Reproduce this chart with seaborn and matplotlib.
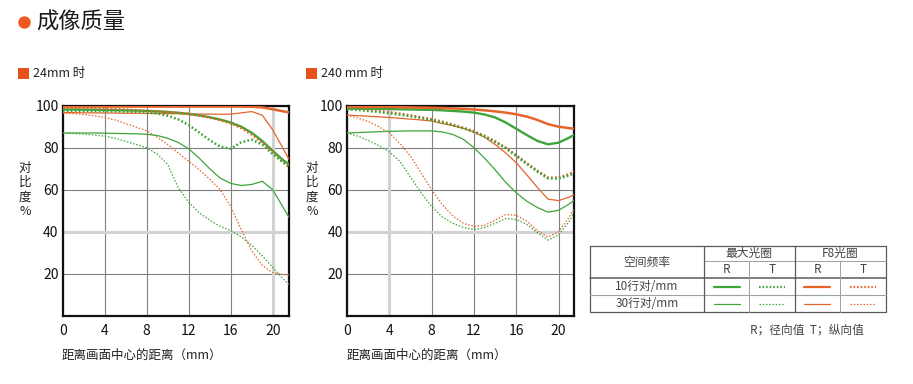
import matplotlib
matplotlib.use("Agg")
import matplotlib.pyplot as plt
import seaborn as sns
from matplotlib.patches import Rectangle

# distance from image centre (mm)
dist = [0, 1, 2, 3, 4, 5, 6, 7, 8, 9, 10, 11, 12, 13, 14, 15, 16, 17, 18, 19, 20, 21, 21.6]

# 24mm - max aperture (green) / F8 (orange), 10 & 30 lp/mm, R & T
w_g10r = [98.2, 98.2, 98.1, 98.1, 98.0, 97.9, 97.8, 97.7, 97.5, 97.3, 97.0, 96.6, 96.1, 95.4, 94.5, 93.4, 92.0, 90.0, 87.1, 83.2, 78.5, 74.0, 72.0]
w_g10t = [97.6, 97.6, 97.5, 97.5, 97.4, 97.3, 97.2, 97.0, 96.8, 96.3, 95.2, 93.5, 90.8, 87.2, 83.6, 80.5, 79.5, 82.6, 83.8, 81.5, 77.0, 73.0, 71.3]
w_g30r = [87.0, 87.0, 87.0, 87.0, 86.9, 86.8, 86.7, 86.6, 86.4, 85.8, 84.5, 82.5, 79.5, 75.0, 70.0, 65.5, 63.0, 62.0, 62.5, 64.0, 60.0, 51.5, 46.5]
w_g30t = [87.0, 86.8, 86.5, 86.0, 85.5, 84.5, 83.0, 81.5, 80.0, 77.0, 72.0, 61.0, 54.0, 49.0, 45.5, 42.5, 40.5, 37.5, 33.5, 28.5, 23.0, 17.5, 14.5]
w_o10r = [99.6, 99.6, 99.6, 99.6, 99.6, 99.6, 99.6, 99.6, 99.6, 99.6, 99.6, 99.6, 99.6, 99.6, 99.6, 99.6, 99.6, 99.6, 99.5, 99.2, 98.3, 97.3, 96.8]
w_o10t = [99.0, 99.0, 98.9, 98.8, 98.6, 98.4, 98.2, 97.9, 97.6, 97.3, 97.0, 96.6, 96.1, 95.3, 94.3, 93.1, 91.6, 89.4, 86.3, 82.5, 78.0, 73.0, 70.5]
w_o30r = [96.7, 96.7, 96.6, 96.6, 96.5, 96.5, 96.4, 96.4, 96.3, 96.3, 96.2, 96.2, 96.1, 96.0, 96.0, 95.9, 96.0, 96.6, 97.2, 95.5, 88.5, 79.5, 74.0]
w_o30t = [96.5, 96.2, 95.8, 95.2, 94.4, 93.2, 91.5, 89.8, 88.0, 85.0, 81.5, 77.5, 73.5, 69.5, 65.0, 60.0, 52.0, 41.0, 31.0, 24.0, 20.5, 19.6, 19.5]

# 240mm
t_g10r = [98.6, 98.6, 98.5, 98.5, 98.4, 98.3, 98.2, 98.1, 98.0, 97.8, 97.5, 97.2, 96.7, 95.8, 94.4, 92.0, 89.0, 86.0, 83.2, 81.6, 82.4, 84.8, 86.5]
t_g10t = [98.3, 98.0, 97.5, 97.0, 96.4, 95.7, 95.0, 94.1, 93.2, 92.0, 90.7, 89.2, 87.5, 85.3, 82.8, 79.7, 76.0, 72.2, 68.6, 65.4, 65.3, 66.8, 68.2]
t_g30r = [87.0, 87.2, 87.4, 87.6, 87.8, 87.9, 88.0, 88.0, 88.0, 87.5, 86.3, 84.0, 80.0, 75.0, 69.5, 63.5, 58.5, 54.5, 51.5, 49.3, 50.2, 53.2, 55.5]
t_g30t = [87.0, 85.5, 83.5, 81.0, 78.0, 73.5, 66.0, 58.5, 52.0, 47.0, 44.0, 42.0, 41.0, 42.0, 44.0, 46.3, 45.8, 43.5, 39.5, 36.0, 38.5, 45.0, 50.3]
t_o10r = [99.6, 99.6, 99.5, 99.5, 99.4, 99.3, 99.2, 99.1, 99.0, 98.9, 98.7, 98.5, 98.2, 97.8, 97.3, 96.7, 95.9, 94.8, 93.2, 91.2, 90.0, 89.3, 89.0]
t_o10t = [99.0, 98.6, 98.1, 97.5, 96.9, 96.2, 95.4, 94.5, 93.6, 92.4, 91.0, 89.5, 87.8, 85.6, 83.0, 80.0, 76.4, 72.6, 69.0, 65.8, 65.7, 67.4, 69.0]
t_o30r = [95.5, 95.3, 95.0, 94.7, 94.4, 94.0, 93.6, 93.2, 92.7, 91.5, 90.5, 89.2, 87.5, 85.0, 81.5, 77.5, 72.8, 67.0, 61.0, 55.5, 54.8, 56.5, 58.0]
t_o30t = [95.5, 94.2, 92.5, 90.0, 87.0, 82.0, 76.0, 68.0, 60.0, 53.0, 47.5, 44.0, 42.5, 43.0, 45.5, 48.2, 47.8, 45.0, 40.5, 37.5, 40.0, 47.0, 52.0]

x_ticks = [0, 4, 8, 12, 16, 20]
y_ticks = [20, 40, 60, 80, 100]

GREEN = "#3da53a"
ORANGE = "#e5642a"
DOT_THICK = (0, (0.7, 0.9))
DOT_THIN = (0, (1.2, 1.4))
W, H = 913, 384

sns.set_style("white")
plt.rcParams["font.family"] = ["Noto Sans CJK SC", "DejaVu Sans"]

fig = plt.figure(figsize=(W / 100, H / 100), dpi=100)


def box(l, t, r, b):
    return [l / W, 1 - b / H, (r - l) / W, (b - t) / H]


def draw_panel(ax, curves, xmax, light_x):
    # grid first, lighter grey bands on top of it
    ax.set_axisbelow(True)
    ax.grid(True, color="#808080", lw=0.8)
    ax.axhline(40, color="#d2d2d2", lw=2.2, zorder=1)
    ax.axvline(light_x, color="#d2d2d2", lw=2.2, zorder=1)
    for vals, color, ls, lw in curves:
        sns.lineplot(x=dist, y=vals, ax=ax, color=color, linestyle=ls, linewidth=lw, zorder=3)
    ax.set_xlim(0, xmax)
    ax.set_ylim(0, 100)
    ax.set_xticks(x_ticks)
    ax.set_yticks(y_ticks)
    ax.tick_params(length=0, labelsize=10, colors="#111111")
    ax.tick_params(axis="x", pad=6)
    ax.tick_params(axis="y", pad=3)
    ax.set_xlabel("")
    ax.set_ylabel("")
    for sp in ax.spines.values():
        sp.set_color("#111111")
        sp.set_linewidth(1.6)


def styles(g10r, g10t, g30r, g30t, o10r, o10t, o30r, o30t):
    return [
        (g30t, GREEN, DOT_THIN, 0.9),
        (o30t, ORANGE, DOT_THIN, 0.9),
        (g30r, GREEN, "-", 0.9),
        (o30r, ORANGE, "-", 0.9),
        (g10r, GREEN, "-", 1.7),
        (o10t, ORANGE, DOT_THICK, 1.8),
        (g10t, GREEN, DOT_THICK, 1.8),
        (o10r, ORANGE, "-", 1.8),
    ]


ax1 = fig.add_axes(box(62.7, 105.7, 289, 315.7))
draw_panel(ax1, styles(w_g10r, w_g10t, w_g30r, w_g30t, w_o10r, w_o10t, w_o30r, w_o30t), 21.55, 20)

ax2 = fig.add_axes(box(347, 105.7, 574, 315.7))
draw_panel(ax2, styles(t_g10r, t_g10t, t_g30r, t_g30t, t_o10r, t_o10t, t_o30r, t_o30t), 21.45, 4)

# overlay in pixel coordinates for headings and the legend table
ov = fig.add_axes([0, 0, 1, 1], zorder=-1)
ov.set_xlim(0, W)
ov.set_ylim(H, 0)
ov.axis("off")

ov.scatter([23.5], [21.5], s=80, color="#f05a22", linewidths=0)
ov.text(36, 22, "成像质量", fontsize=16, va="center", ha="left", color="#1a1a1a")

for sx, label in [(18, "24mm 时"), (306, "240 mm 时")]:
    ov.add_patch(Rectangle((sx, 68), 11, 11, color="#e8501e", lw=0))
    ov.text(sx + 15, 74, label, fontsize=9, va="center", ha="left", color="#222222")

for cx, axl in [(25, 62), (312, 347)]:
    ov.text(cx, 190, "对\n比\n度\n%", fontsize=9, va="center", ha="center",
            color="#222222", linespacing=1.15)
    ov.text(axl, 355, "距离画面中心的距离（mm）", fontsize=9, va="center", ha="left", color="#222222")

# legend table
L, C1, C2, C3, C4, R = 590, 704, 749, 794.7, 840, 885.7
T0, T1, T2, T3, T4 = 246, 261, 278.3, 295.3, 312
dark, light = "#5a5a5a", "#a0a0a0"
ov.plot([L, R, R, L, L], [T0, T0, T4, T4, T0], color=dark, lw=0.9)
ov.plot([C1, R], [T1, T1], color=light, lw=0.7)
ov.plot([L, R], [T2, T2], color=dark, lw=1.1)
ov.plot([L, R], [T3, T3], color=light, lw=0.8)
ov.plot([C1, C1], [T0, T4], color=dark, lw=0.9)
ov.plot([C3, C3], [T0, T4], color=dark, lw=0.9)
ov.plot([C2, C2], [T1, T4], color=light, lw=0.7)
ov.plot([C4, C4], [T1, T4], color=light, lw=0.7)

tc = "#444444"
ov.text((L + C1) / 2, (T0 + T2) / 2, "空间频率", fontsize=8.5, ha="center", va="center", color=tc)
ov.text((C1 + C3) / 2, (T0 + T1) / 2, "最大光圈", fontsize=8.5, ha="center", va="center", color=tc)
ov.text((C3 + R) / 2, (T0 + T1) / 2, "F8光圈", fontsize=8.5, ha="center", va="center", color=tc)
for a, b, s in [(C1, C2, "R"), (C2, C3, "T"), (C3, C4, "R"), (C4, R, "T")]:
    ov.text((a + b) / 2, (T1 + T2) / 2, s, fontsize=8.5, ha="center", va="center", color=tc)
ov.text((L + C1) / 2, (T2 + T3) / 2, "10行对/mm", fontsize=8.5, ha="center", va="center", color=tc)
ov.text((L + C1) / 2, (T3 + T4) / 2, "30行对/mm", fontsize=8.5, ha="center", va="center", color=tc)

for (top, bot), lw, dot in [((T2, T3), 1.6, DOT_THICK), ((T3, T4), 0.9, DOT_THIN)]:
    ym = (top + bot) / 2
    cells = [(C1, C2, GREEN, "-"), (C2, C3, GREEN, dot), (C3, C4, ORANGE, "-"), (C4, R, ORANGE, dot)]
    for a, b, col, ls in cells:
        m = (a + b) / 2
        ov.plot([m - 13, m + 13], [ym, ym], color=col, ls=ls, lw=lw)

ov.text(807, 330, "R；径向值  T；纵向值", fontsize=8.5, ha="center", va="center", color=tc)

fig.savefig("out.png", dpi=100, facecolor="white")
